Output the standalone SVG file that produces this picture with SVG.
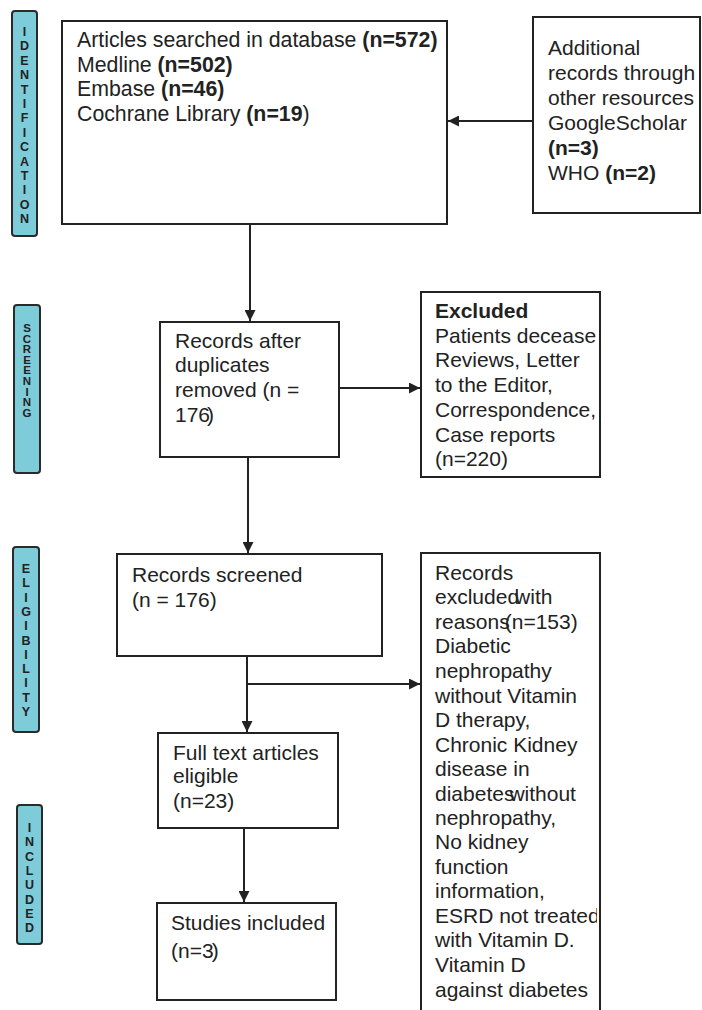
<svg xmlns="http://www.w3.org/2000/svg" width="702" height="1010" viewBox="0 0 702 1010">
<style>
.box{fill:#fff;stroke:#222;stroke-width:2}
.side{fill:#7ecbd9;stroke:#2a2a2a;stroke-width:2}
.t{font-family:"Liberation Sans",Arial,sans-serif;font-size:21px;fill:#222}
.b{font-weight:bold}
.s{font-family:"Liberation Sans",Arial,sans-serif;font-size:12.5px;font-weight:bold;fill:#222;text-anchor:middle}
.ln{stroke:#222;stroke-width:2;fill:none}
</style>
<defs>
<marker id="ah" viewBox="0 0 10 10" refX="10" refY="5" markerWidth="5.5" markerHeight="5.5" orient="auto" markerUnits="strokeWidth">
<path d="M0,0 L10,5 L0,10 z" fill="#222"/>
</marker>
<clipPath id="c4"><rect x="422" y="293" width="175" height="183"/></clipPath>
<clipPath id="c7"><rect x="422" y="554" width="175" height="460"/></clipPath>
</defs>

<g id="side-identification">
<rect class="side" x="12" y="11" width="25" height="225" rx="3"/>
<text class="s"><tspan x="24.5" y="36">I</tspan><tspan x="24.5" y="50.4">D</tspan><tspan x="24.5" y="64.8">E</tspan><tspan x="24.5" y="79.2">N</tspan><tspan x="24.5" y="93.6">T</tspan><tspan x="24.5" y="108">I</tspan><tspan x="24.5" y="122.4">F</tspan><tspan x="24.5" y="136.8">I</tspan><tspan x="24.5" y="151.2">C</tspan><tspan x="24.5" y="165.6">A</tspan><tspan x="24.5" y="180">T</tspan><tspan x="24.5" y="194.4">I</tspan><tspan x="24.5" y="208.8">O</tspan><tspan x="24.5" y="223.2">N</tspan></text>
</g>

<g id="side-screening">
<rect class="side" x="14" y="305" width="26" height="168" rx="3"/>
<text class="s" style="font-size:11.5px"><tspan x="27" y="332">S</tspan><tspan x="27" y="342.6">C</tspan><tspan x="27" y="353.2">R</tspan><tspan x="27" y="363.8">E</tspan><tspan x="27" y="374.4">E</tspan><tspan x="27" y="385">N</tspan><tspan x="27" y="395.6">I</tspan><tspan x="27" y="406.2">N</tspan><tspan x="27" y="416.8">G</tspan></text>
</g>

<g id="side-eligibility">
<rect class="side" x="13" y="547" width="26" height="185" rx="3"/>
<text class="s"><tspan x="26" y="573">E</tspan><tspan x="26" y="587.3">L</tspan><tspan x="26" y="601.6">I</tspan><tspan x="26" y="615.9">G</tspan><tspan x="26" y="630.2">I</tspan><tspan x="26" y="644.5">B</tspan><tspan x="26" y="658.8">I</tspan><tspan x="26" y="673.1">L</tspan><tspan x="26" y="687.4">I</tspan><tspan x="26" y="701.7">T</tspan><tspan x="26" y="716">Y</tspan></text>
</g>

<g id="side-included">
<rect class="side" x="17" y="805" width="25" height="139" rx="3"/>
<text class="s"><tspan x="29.5" y="832">I</tspan><tspan x="29.5" y="846.3">N</tspan><tspan x="29.5" y="860.6">C</tspan><tspan x="29.5" y="874.9">L</tspan><tspan x="29.5" y="889.2">U</tspan><tspan x="29.5" y="903.5">D</tspan><tspan x="29.5" y="917.8">E</tspan><tspan x="29.5" y="932.1">D</tspan></text>
</g>

<g id="connectors">
<line class="ln" x1="533" y1="121" x2="448" y2="121" marker-end="url(#ah)"/>
<line class="ln" x1="250" y1="224" x2="250" y2="321" marker-end="url(#ah)"/>
<line class="ln" x1="339" y1="388" x2="420" y2="388" marker-end="url(#ah)"/>
<line class="ln" x1="248" y1="457" x2="248" y2="553" marker-end="url(#ah)"/>
<line class="ln" x1="247" y1="656" x2="247" y2="732" marker-end="url(#ah)"/>
<line class="ln" x1="247" y1="684" x2="420" y2="684" marker-end="url(#ah)"/>
<line class="ln" x1="244" y1="828" x2="244" y2="902" marker-end="url(#ah)"/>
</g>

<g id="n-database">
<rect class="box" x="62" y="21" width="385" height="203"/>
<text class="t" style="font-size:21.3px"><tspan x="77" y="47">Articles searched in database <tspan class="b">(n=572)</tspan></tspan><tspan x="77" y="72">Medline <tspan class="b">(n=502)</tspan></tspan><tspan x="77" y="96">Embase <tspan class="b">(n=46)</tspan></tspan><tspan x="77" y="121">Cochrane Library <tspan class="b">(n=19</tspan>)</tspan></text>
</g>

<g id="n-additional">
<rect class="box" x="533" y="17" width="167" height="196"/>
<text class="t"><tspan x="548" y="55">Additional</tspan><tspan x="548" y="80">records through</tspan><tspan x="548" y="105">other resources</tspan><tspan x="548" y="130">GoogleScholar</tspan><tspan x="548" y="155" class="b">(n=3)</tspan><tspan x="548" y="180">WHO <tspan class="b">(n=2)</tspan></tspan></text>
</g>

<g id="n-duplicates">
<rect class="box" x="160" y="322" width="179" height="135"/>
<text class="t"><tspan x="175" y="348">Records after</tspan><tspan x="175" y="372">duplicates</tspan><tspan x="175" y="397">removed (n =</tspan><tspan x="175" y="422">176<tspan dx="-3">)</tspan></tspan></text>
</g>

<g id="n-excluded">
<rect class="box" x="421" y="292" width="179" height="185"/>
<text class="t" clip-path="url(#c4)"><tspan x="435" y="318" class="b">Excluded</tspan><tspan x="435" y="343">Patients decease</tspan><tspan x="435" y="367">Reviews, Letter</tspan><tspan x="435" y="392">to the Editor,</tspan><tspan x="435" y="417">Correspondence,</tspan><tspan x="435" y="442">Case reports</tspan><tspan x="435" y="466">(n=220)</tspan></text>
</g>

<g id="n-screened">
<rect class="box" x="117" y="554" width="265" height="102"/>
<text class="t"><tspan x="132" y="582">Records screened</tspan><tspan x="132" y="607">(n = 176)</tspan></text>
</g>

<g id="n-reasons">
<rect class="box" x="421" y="553" width="179" height="470"/>
<text class="t" clip-path="url(#c7)"><tspan x="435" y="580">Records</tspan><tspan x="435" y="604">excluded<tspan dx="-4">with</tspan></tspan><tspan x="435" y="629">reasons<tspan dx="-5">(n=153)</tspan></tspan><tspan x="435" y="653">Diabetic</tspan><tspan x="435" y="678">nephropathy</tspan><tspan x="435" y="703">without Vitamin</tspan><tspan x="435" y="727">D therapy,</tspan><tspan x="435" y="752">Chronic Kidney</tspan><tspan x="435" y="776">disease in</tspan><tspan x="435" y="801">diabetes<tspan dx="-5">without</tspan></tspan><tspan x="435" y="825">nephropathy,</tspan><tspan x="435" y="849">No kidney</tspan><tspan x="435" y="874">function</tspan><tspan x="435" y="898">information,</tspan><tspan x="435" y="923">ESRD not treated</tspan><tspan x="435" y="947">with Vitamin D.</tspan><tspan x="435" y="972">Vitamin D</tspan><tspan x="435" y="997">against diabetes</tspan></text>
</g>

<g id="n-fulltext">
<rect class="box" x="158" y="733" width="180" height="95"/>
<text class="t"><tspan x="173" y="760">Full text articles</tspan><tspan x="173" y="783">eligible</tspan><tspan x="173" y="808">(n=23)</tspan></text>
</g>

<g id="n-included">
<rect class="box" x="157" y="903" width="179" height="97"/>
<text class="t"><tspan x="171" y="930">Studies included</tspan><tspan x="171" y="958">(n=3<tspan dx="-2">)</tspan></tspan></text>
</g>
</svg>
